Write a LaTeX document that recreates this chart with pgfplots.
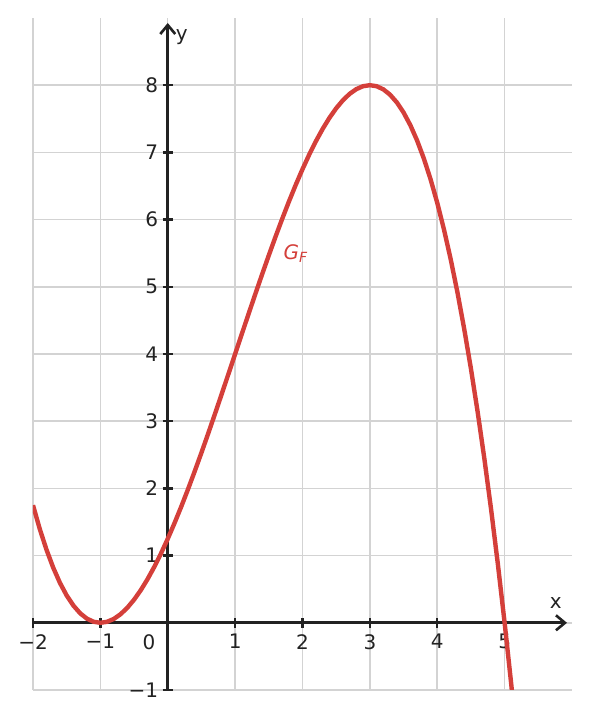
\documentclass[border=0pt]{standalone}
\usepackage{fontspec}
\setmainfont{DejaVu Sans}
\usepackage{pgfplots}
\pgfplotsset{compat=1.18}
\usetikzlibrary{arrows.meta}
\definecolor{axc}{HTML}{222222}
\definecolor{gridc}{HTML}{D3D3D3}
\definecolor{curvec}{HTML}{D43F3A}
\begin{document}
\begin{tikzpicture}
\begin{axis}[
  scale only axis, width=539pt, height=672pt,
  xmin=-2, xmax=6, ymin=-1, ymax=9,
  axis lines=middle,
  axis line style={line width=2.8pt, color=axc, shorten >=5pt, -{Straight Barb[length=9pt,width=15pt,line width=2.6pt]}},
  xtick={-2,-1,0,1,2,3,4,5}, ytick={-1,0,1,2,3,4,5,6,7,8},
  xticklabels={−2,−1,,1,2,3,4,5},
  yticklabels={−1,,1,2,3,4,5,6,7,8},
  hide obscured x ticks=false, hide obscured y ticks=false,
  grid=major, grid style={line width=1.5pt, color=gridc},
  major tick length=10pt, tick align=center,
  tick style={line width=2.5pt, color=axc},
  ticklabel style={font=\fontsize{20}{20}\selectfont, text=axc},
  xticklabel style={yshift=-3pt},
  yticklabel style={xshift=-1pt},
  clip=true,
]
\coordinate (sw) at (rel axis cs:0,0);
\coordinate (ne) at (rel axis cs:1,1);
\addplot[curvec, line width=4.4pt] coordinates {
(-2,1.75) (-1.9,1.39725) (-1.8,1.088) (-1.7,0.82075) (-1.6,0.594) (-1.5,0.40625)
(-1.4,0.256) (-1.3,0.14175) (-1.2,0.062) (-1.1,0.01525) (-1.0,0) (-0.9,0.01475)
(-0.8,0.058) (-0.7,0.12825) (-0.6,0.224) (-0.5,0.34375) (-0.4,0.486) (-0.3,0.64925)
(-0.2,0.832) (-0.1,1.03275) (0,1.25) (0.1,1.48225) (0.2,1.728) (0.3,1.98575)
(0.4,2.254) (0.5,2.53125) (0.6,2.816) (0.7,3.10675) (0.8,3.402) (0.9,3.70025)
(1.0,4) (1.1,4.29975) (1.2,4.598) (1.3,4.89325) (1.4,5.184) (1.5,5.46875)
(1.6,5.746) (1.7,6.01425) (1.8,6.272) (1.9,6.51775) (2.0,6.75) (2.1,6.96725)
(2.2,7.168) (2.3,7.35075) (2.4,7.514) (2.5,7.65625) (2.6,7.776) (2.7,7.87175)
(2.8,7.942) (2.9,7.98525) (3.0,8) (3.1,7.98475) (3.2,7.938) (3.3,7.85825)
(3.4,7.744) (3.5,7.59375) (3.6,7.406) (3.7,7.17925) (3.8,6.912) (3.9,6.60275)
(4.0,6.25) (4.1,5.85225) (4.2,5.408) (4.3,4.91575) (4.4,4.374) (4.5,3.78125)
(4.6,3.136) (4.7,2.43675) (4.8,1.682) (4.9,0.87025) (5.0,0) (5.1,-0.93025) (5.2,-1.922)
};
\node[text=curvec, font=\fontsize{20}{20}\selectfont\itshape] at (axis cs:1.9,5.5) {G\textsubscript{F}};
\node[text=axc, font=\fontsize{20}{20}\selectfont] at (axis cs:5.76,0.3) {x};
\node[text=axc, font=\fontsize{20}{20}\selectfont] at (axis cs:0.21,8.71) {y};
\node[text=axc, font=\fontsize{20}{20}\selectfont, anchor=north east] at (axis cs:-0.13,-0.13) {0};
\end{axis}
\pgfresetboundingbox
\path ([shift={(-33pt,-29pt)}]sw) rectangle ([shift={(17pt,18pt)}]ne);
\end{tikzpicture}
\end{document}
